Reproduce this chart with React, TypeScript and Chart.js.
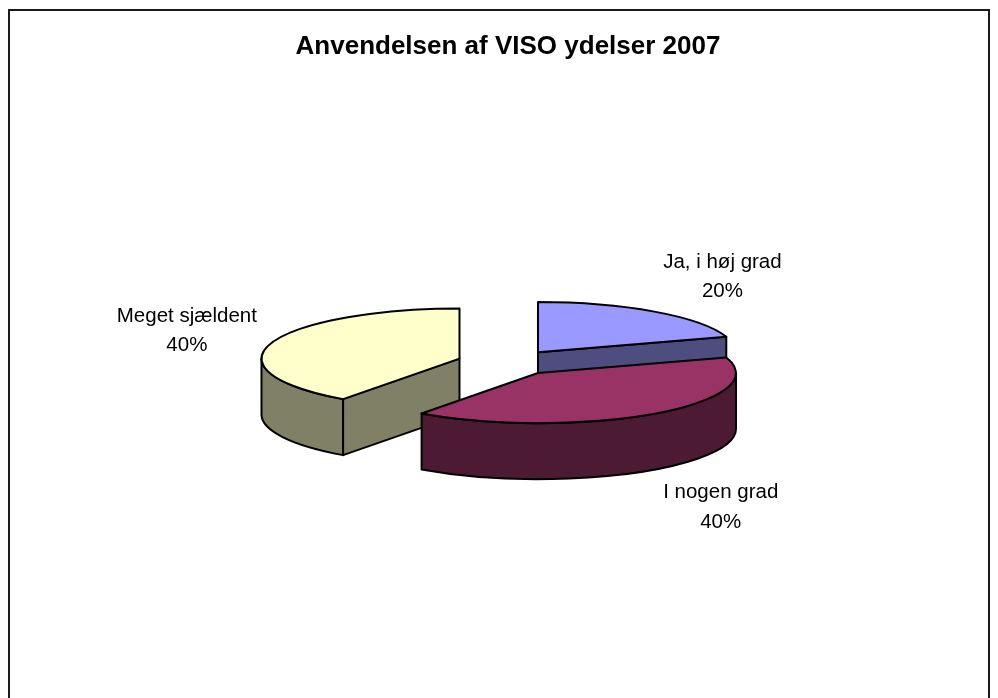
import React, { useEffect, useRef } from 'react';
import { Chart, registerables } from 'chart.js';

Chart.register(...registerables);

const TITLE = 'Anvendelsen af VISO ydelser 2007';
const CATEGORIES = ['Ja, i høj grad', 'I nogen grad', 'Meget sjældent'];
const VALUES = [20, 40, 40];
const TOP_COLORS = ['#9999FF', '#993366', '#FFFFCC'];

const FONT = '"Liberation Sans", Arial, Helvetica, sans-serif';
const TILT = 0.253; // vertical squash of the pie ellipse
const DEPTH = 56; // thickness of the 3D pie in px
const EXPLODE = 51; // explosion distance in px
const RADIUS = 198;

function darken(hex: string, f = 0.5): string {
  const n = parseInt(hex.slice(1), 16);
  const r = Math.round(((n >> 16) & 255) * f);
  const g = Math.round(((n >> 8) & 255) * f);
  const b = Math.round((n & 255) * f);
  return `rgb(${r},${g},${b})`;
}

const pie3d = {
  id: 'pie3d',
  beforeDraw(chart: any) {
    const ctx = chart.ctx;
    ctx.save();
    ctx.strokeStyle = '#1a1a1a';
    ctx.lineWidth = 2;
    ctx.strokeRect(9, 10, 980, 720);
    ctx.restore();
  },
  beforeDatasetsDraw(chart: any) {
    const ctx: CanvasRenderingContext2D = chart.ctx;
    const meta = chart.getDatasetMeta(0);
    const ds = chart.data.datasets[0];
    const data: number[] = ds.data;
    const total = data.reduce((a, b) => a + b, 0);
    const bg: string[] = ds.backgroundColor;

    const slices = meta.data.map((el: any, i: number) => {
      const p = el.getProps(['x', 'y', 'startAngle', 'endAngle', 'outerRadius'], true);
      const m = (p.startAngle + p.endAngle) / 2;
      const cx = p.x + EXPLODE * Math.cos(m);
      const cy = p.y + EXPLODE * TILT * Math.sin(m);
      return { i, s: p.startAngle, e: p.endAngle, R: p.outerRadius, x: p.x, y: p.y, m, cx, cy };
    });

    const order = [...slices].sort((a, b) => a.cy - b.cy);
    ctx.save();
    ctx.lineWidth = 2;
    ctx.lineJoin = 'round';
    ctx.strokeStyle = '#000';
    for (const sl of order) {
      const { cx, cy, R, s, e } = sl;
      const ry = R * TILT;
      const top = bg[sl.i];
      const side = darken(top, 0.5);
      const P = (a: number, dz: number) => [cx + R * Math.cos(a), cy + ry * Math.sin(a) + dz];

      // outer curved wall (front half only)
      const ranges = [[0, Math.PI], [2 * Math.PI, 3 * Math.PI], [-2 * Math.PI, -Math.PI]];
      for (const [a0, a1] of ranges) {
        const lo = Math.max(s, a0);
        const hi = Math.min(e, a1);
        if (hi - lo > 1e-6) {
          ctx.beginPath();
          const p0 = P(lo, 0);
          ctx.moveTo(p0[0], p0[1]);
          ctx.ellipse(cx, cy, R, ry, 0, lo, hi, false);
          const p1 = P(hi, DEPTH);
          ctx.lineTo(p1[0], p1[1]);
          ctx.ellipse(cx, cy + DEPTH, R, ry, 0, hi, lo, true);
          ctx.closePath();
          ctx.fillStyle = side;
          ctx.fill();
          ctx.stroke();
        }
      }
      // cut faces
      const face = (a: number) => {
        const p0 = P(a, 0);
        const p1 = P(a, DEPTH);
        ctx.beginPath();
        ctx.moveTo(cx, cy);
        ctx.lineTo(p0[0], p0[1]);
        ctx.lineTo(p1[0], p1[1]);
        ctx.lineTo(cx, cy + DEPTH);
        ctx.closePath();
        ctx.fillStyle = side;
        ctx.fill();
        ctx.stroke();
      };
      if (Math.cos(s) < -1e-3) face(s);
      if (Math.cos(e) > 1e-3) face(e);

      // top face
      ctx.beginPath();
      ctx.moveTo(cx, cy);
      ctx.ellipse(cx, cy, R, ry, 0, s, e, false);
      ctx.closePath();
      ctx.fillStyle = top;
      ctx.fill();
      ctx.stroke();
    }

    // data labels
    ctx.fillStyle = '#000';
    ctx.font = `20.5px ${FONT}`;
    ctx.textAlign = 'center';
    ctx.textBaseline = 'alphabetic';
    for (const sl of slices) {
      const c = Math.cos(sl.m);
      const sn = Math.sin(sl.m);
      const lines = [String(chart.data.labels[sl.i]), Math.round((data[sl.i] / total) * 100) + '%'];
      const w = Math.max(...lines.map((t) => ctx.measureText(t).width));
      const edgeX = sl.x + (sl.R + EXPLODE + 15) * c;
      const midY = sl.y + ((sl.R + EXPLODE) * TILT + 45) * sn + (sn > 0 ? DEPTH : 0);
      const bx = c >= 0 ? edgeX + w / 2 : edgeX - w / 2;
      ctx.fillText(lines[0], bx, midY - 7.5);
      ctx.fillText(lines[1], bx, midY + 22);
    }
    ctx.restore();
    return false;
  },
};

export default function App() {
  const ref = useRef<HTMLCanvasElement>(null);
  useEffect(() => {
    if (!ref.current) return;
    const chart = new Chart(ref.current, {
      type: 'pie',
      data: {
        labels: CATEGORIES,
        datasets: [
          {
            data: VALUES,
            backgroundColor: TOP_COLORS,
            borderColor: '#000',
            borderWidth: 1,
          },
        ],
      },
      options: {
        responsive: false,
        animation: false,
        radius: RADIUS,
        layout: { padding: { left: 18, right: 0, top: 0, bottom: 35.2 } },
        plugins: {
          legend: { display: false },
          tooltip: { enabled: false },
          title: {
            display: true,
            text: TITLE,
            color: '#000',
            font: { family: FONT, size: 26, weight: 'bold', lineHeight: 1.2 },
            padding: { top: 31.2, bottom: 0 },
          },
        },
      } as any,
      plugins: [pie3d],
    });
    return () => chart.destroy();
  }, []);
  return (
    <canvas
      ref={ref}
      width={998}
      height={698}
      style={{ position: 'fixed', left: 0, top: 0, width: 998, height: 698, background: '#fff' }}
    />
  );
}
